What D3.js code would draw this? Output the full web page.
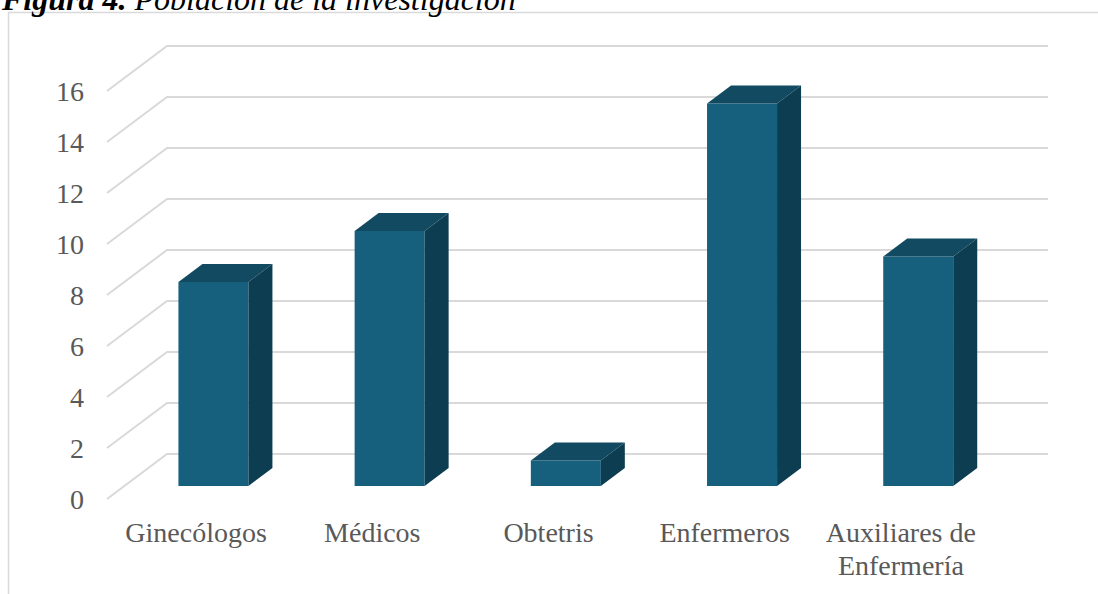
<!DOCTYPE html>
<html>
<head>
<meta charset="utf-8">
<script src="https://cdn.jsdelivr.net/npm/d3@7"></script>
<style>
    body { margin: 0; background: #fff; }
    svg { display: block; }
</style>
</head>
<body>
<div id="chart"></div>
<script>
// data
let categories = ["Ginecólogos", "Médicos", "Obtetris", "Enfermeros", "Auxiliares de Enfermería"]
let values = [8, 10, 1, 15, 9]
let yTicks = [0, 2, 4, 6, 8, 10, 12, 14, 16]

const WIDTH = 1098, HEIGHT = 594
const grid_color = "#d9d9d9", text_color = "#595959"
const bar_front = "#16607e", bar_top = "#124a62", bar_side = "#0c3d50"

// 3d floor: front edge to back wall offset
const depth_dx = 60, depth_dy = -45
// bar front sits a bit into the floor, bar itself has a depth
const bar_in = 13, bar_dx = 24, bar_dy = -18, bar_w = 70

let svg = d3.select("#chart").append("svg")
    .attr("width", WIDTH)
    .attr("height", HEIGHT)

// chart border
svg.append("path")
    .attr("d", "M8.5," + HEIGHT + "V12.5H" + WIDTH)
    .attr("fill", "none")
    .attr("stroke", grid_color)
    .attr("stroke-width", 1.5)

// title (cut at top like the source)
let title = svg.append("text")
    .attr("x", 2).attr("y", 10)
    .style("font-family", "'Liberation Serif', 'Times New Roman', serif")
    .style("font-size", "32px")
    .style("font-style", "italic")
    .attr("fill", "#000")
title.append("tspan").style("font-weight", "bold").text("Figura 4.")
title.append("tspan").text(" Población de la investigación")

let x = d3.scaleBand().domain(categories).range([108, 989])
let y = d3.scaleLinear().domain([0, 16]).range([499, 91])

let g = svg.append("g")

// gridlines: floor diagonal + back wall
g.selectAll(".grid")
    .data(yTicks).enter()
    .append("polyline")
    .attr("class", "grid")
    .attr("points", function (d) {
        let y0 = y(d)
        return [[107, y0], [107 + depth_dx, y0 + depth_dy], [1048, y0 + depth_dy]].map(p => p.join(",")).join(" ")
    })
    .attr("fill", "none")
    .attr("stroke", grid_color)
    .attr("stroke-width", 2)

// y tick labels
g.selectAll(".ylab")
    .data(yTicks).enter()
    .append("text")
    .attr("class", "ylab")
    .attr("x", 84)
    .attr("y", d => y(d))
    .attr("dy", "0.35em")
    .attr("text-anchor", "end")
    .style("font-family", "'Liberation Serif', 'Times New Roman', serif")
    .style("font-size", "28px")
    .attr("fill", text_color)
    .text(d => d)

// bars
let shift_x = bar_in * depth_dx / -depth_dy
let bars = g.selectAll(".bar")
    .data(categories.map((c, i) => ({ cat: c, val: values[i] }))).enter()
    .append("g").attr("class", "bar")

function pts(arr) { return arr.map(p => p.join(",")).join(" ") }

bars.each(function (d) {
    let sel = d3.select(this)
    let x0 = x(d.cat) + x.bandwidth() / 2 + shift_x - bar_w / 2
    let x1 = x0 + bar_w
    let yb = y(0) - bar_in
    let yt = y(d.val) - bar_in
    sel.append("rect")
        .attr("x", x0).attr("y", yt)
        .attr("width", bar_w).attr("height", yb - yt)
        .attr("fill", bar_front)
    sel.append("polygon")
        .attr("points", pts([[x0, yt], [x0 + bar_dx, yt + bar_dy], [x1 + bar_dx, yt + bar_dy], [x1, yt]]))
        .attr("fill", bar_top)
    sel.append("polygon")
        .attr("points", pts([[x1, yt], [x1 + bar_dx, yt + bar_dy], [x1 + bar_dx, yb + bar_dy], [x1, yb]]))
        .attr("fill", bar_side)
})

// category labels, wrapped to band width
let xlab = g.selectAll(".xlab")
    .data(categories).enter()
    .append("text")
    .attr("class", "xlab")
    .attr("text-anchor", "middle")
    .style("font-family", "'Liberation Serif', 'Times New Roman', serif")
    .style("font-size", "28px")
    .attr("fill", text_color)

xlab.each(function (d) {
    let t = d3.select(this)
    let cx = x(d) + x.bandwidth() / 2
    let words = d.split(" "), line = [], lines = []
    let tmp = t.append("tspan")
    for (let w of words) {
        line.push(w)
        tmp.text(line.join(" "))
        if (tmp.node().getComputedTextLength() > x.bandwidth() - 10 && line.length > 1) {
            line.pop()
            lines.push(line.join(" "))
            line = [w]
        }
    }
    lines.push(line.join(" "))
    tmp.remove()
    lines.forEach((l, i) => {
        t.append("tspan").attr("x", cx).attr("y", 542 + i * 33).text(l)
    })
})
</script>
</body>
</html>
